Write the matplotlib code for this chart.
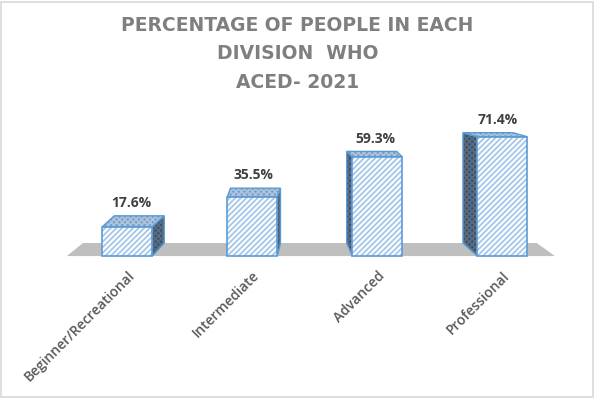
import matplotlib
matplotlib.use("Agg")
import matplotlib.pyplot as plt
from matplotlib.patches import Polygon, Rectangle

# === DATA ===
divisions = ["Beginner/Recreational", "Intermediate", "Advanced", "Professional"]
aced_pct = [17.6, 35.5, 59.3, 71.4]
title = "PERCENTAGE OF PEOPLE IN EACH\nDIVISION  WHO\nACED- 2021"

# === STYLE ===
plt.rcParams['font.family'] = ['Open Sans', 'DejaVu Sans']
plt.rcParams['hatch.linewidth'] = 1.3
edge_blue = "#5b9bd5"
stripe_blue = "#a4c6e8"
top_col = "#7f98b8"
side_col = "#3d4d60"
floor_col = "#bfbfbf"

bar_w = 0.4
depth0 = 7.8        # floor depth in % units
vz = 104.0          # height where depth vanishes
kx = 0.07           # sideways perspective
xv = 1.356          # vanishing x (category units)

fig = plt.figure(figsize=(5.95, 3.98), dpi=100)
ax = fig.add_axes([0.109, 133.6 / 398, 500 / 595, 158.7 / 398])
ax.set_xlim(-0.5, 3.5)
ax.set_ylim(-5, 90)

# === FLOOR ===
n = len(divisions)
fx0, fx1 = -0.484, n - 0.58
floor = Polygon([(fx0, 0), (fx1, 0), (fx1 + kx * (xv - fx1), depth0),
                 (fx0 + kx * (xv - fx0), depth0)], closed=True,
                facecolor=floor_col, edgecolor='none', zorder=1)
ax.add_patch(floor)

# === BARS (front faces) ===
xs = list(range(n))
ax.bar(xs, aced_pct, width=bar_w, color='white', edgecolor=stripe_blue,
       hatch='//////', linewidth=0, zorder=4)
ax.bar(xs, aced_pct, width=bar_w, color='none', edgecolor=edge_blue,
       linewidth=1.2, zorder=5)

# === 3D FACES ===
for i, v in enumerate(aced_pct):
    dx = kx * (xv - i)
    dy = depth0 * (1 - v / vz)
    xl, xr = i - bar_w / 2, i + bar_w / 2
    top = Polygon([(xl, v), (xr, v), (xr + dx, v + dy), (xl + dx, v + dy)],
                  closed=True, facecolor=top_col, edgecolor='#a9c4e2',
                  hatch='xxxxxx', linewidth=0, zorder=3)
    ax.add_patch(top)
    ax.add_patch(Polygon(top.get_xy(), closed=True, fill=False,
                         edgecolor=edge_blue, linewidth=1.0, zorder=3.5))
    xe = xr if dx > 0 else xl
    side = Polygon([(xe, 0), (xe, v), (xe + dx, v + dy), (xe + dx, depth0)],
                   closed=True, facecolor=side_col, edgecolor='#566b84',
                   hatch='xxxxxx', linewidth=0, zorder=3)
    ax.add_patch(side)
    ax.add_patch(Polygon(side.get_xy(), closed=True, fill=False,
                         edgecolor=edge_blue, linewidth=1.0, zorder=3.5))
    ax.text(i + dx * 0.3, v + dy + 3.5, f"{v}%", ha='center', va='bottom',
            fontsize=10, fontweight='bold', color='#404040', zorder=6)

# === AXES ===
ax.set_xticks(xs)
ax.set_xticklabels(divisions, rotation=45, ha='right', rotation_mode='anchor',
                   fontsize=10, fontweight='semibold', color='#595959')
ax.tick_params(axis='x', length=0, pad=3)
ax.set_yticks([])
for s in ax.spines.values():
    s.set_visible(False)
ax.patch.set_alpha(0)

fig.text(0.5, 1 - 16 / 398, title, ha='center', va='top', fontsize=13.5,
         fontweight='bold', color='#7f7f7f', linespacing=1.62,
         family=['DejaVu Sans'])

# figure border
fig.patches.append(Rectangle((0.002, 0.003), 0.995, 0.993, transform=fig.transFigure,
                             fill=False, edgecolor='#d9d9d9', linewidth=1.2))

fig.savefig("out.png", dpi=100)
